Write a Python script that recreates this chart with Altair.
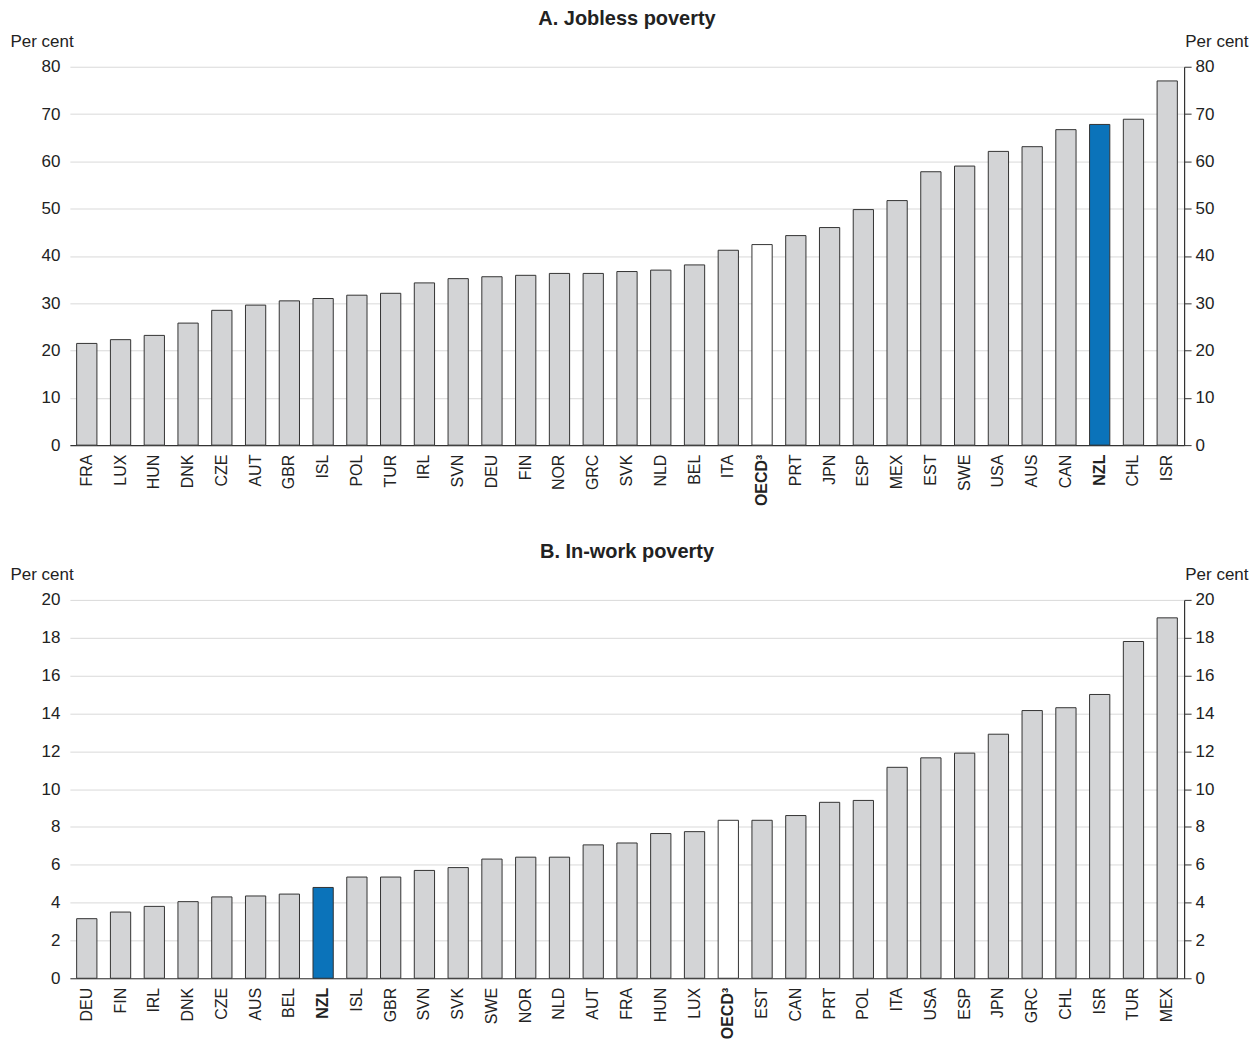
import altair as alt
import pandas as pd

FONT = "Liberation Sans"

countries_a = ["FRA", "LUX", "HUN", "DNK", "CZE", "AUT", "GBR", "ISL", "POL", "TUR",
               "IRL", "SVN", "DEU", "FIN", "NOR", "GRC", "SVK", "NLD", "BEL", "ITA",
               "OECD³", "PRT", "JPN", "ESP", "MEX", "EST", "SWE", "USA", "AUS", "CAN",
               "NZL", "CHL", "ISR"]
values_a = [21.5, 22.3, 23.2, 25.8, 28.5, 29.6, 30.5, 31.0, 31.7, 32.1,
            34.3, 35.2, 35.6, 35.9, 36.3, 36.3, 36.7, 37.0, 38.1, 41.2,
            42.4, 44.3, 46.0, 49.8, 51.7, 57.8, 59.0, 62.1, 63.1, 66.7,
            67.8, 68.9, 77.0]

countries_b = ["DEU", "FIN", "IRL", "DNK", "CZE", "AUS", "BEL", "NZL", "ISL", "GBR",
               "SVN", "SVK", "SWE", "NOR", "NLD", "AUT", "FRA", "HUN", "LUX", "OECD³",
               "EST", "CAN", "PRT", "POL", "ITA", "USA", "ESP", "JPN", "GRC", "CHL",
               "ISR", "TUR", "MEX"]
values_b = [3.15, 3.5, 3.8, 4.05, 4.3, 4.35, 4.45, 4.8, 5.35, 5.35,
            5.7, 5.85, 6.3, 6.4, 6.4, 7.05, 7.15, 7.65, 7.75, 8.35,
            8.35, 8.6, 9.3, 9.4, 11.15, 11.65, 11.9, 12.9, 14.15, 14.3,
            15.0, 17.8, 19.05]

titles = ["A. Jobless poverty", "B. In-work poverty"]
y_max = [80, 20]
y_step = [10, 2]

GRAY = "#d3d4d6"
BLUE = "#0b73ba"
WHITE = "#ffffff"
TEXT = "#222222"


def group_of(c):
    if c == "NZL":
        return "NZL"
    if c.startswith("OECD"):
        return "OECD"
    return "Other"


def panel(countries, values, title, ymax, ystep):
    df = pd.DataFrame({"country": countries, "value": values,
                       "group": [group_of(c) for c in countries]})
    ticks = list(range(0, ymax + 1, ystep))
    yscale = alt.Scale(domain=[0, ymax], nice=False)
    bold_test = "datum.value == 'NZL' || datum.value == 'OECD³'"
    xscale = alt.Scale(paddingInner=0.4, paddingOuter=0.2)
    x = alt.X("country:N", sort=countries, title=None, scale=xscale,
              axis=alt.Axis(labelAngle=-90, labelAlign="right", labelBaseline="middle",
                            labelFontSize=16, labelColor=TEXT, labelPadding=9,
                            ticks=False, domain=True, domainColor="#333333",
                            domainWidth=1.2,
                            labelFontWeight={"condition": {"test": bold_test, "value": "bold"},
                                             "value": "normal"}))
    bars = alt.Chart(df).mark_bar(stroke="#333333", strokeWidth=1).encode(
        x=x,
        y=alt.Y("value:Q", scale=yscale, title="Per cent",
                axis=alt.Axis(orient="left", values=ticks, grid=True, gridColor="#d9d9d9",
                              gridWidth=1, domain=False, ticks=False, tickSize=0,
                              labelPadding=10, labelFontSize=17, labelColor=TEXT,
                              titleAngle=0, titleAlign="left", titleBaseline="middle",
                              titleX=-60, titleY=-25, titleFontSize=17,
                              titleFontWeight="normal", titleColor=TEXT)),
        color=alt.Color("group:N", legend=None,
                        scale=alt.Scale(domain=["Other", "NZL", "OECD"],
                                        range=[GRAY, BLUE, WHITE])),
    )
    right = alt.Chart(df).mark_bar(opacity=0).encode(
        x=alt.X("country:N", sort=countries, title=None, scale=xscale),
        y=alt.Y("value:Q", scale=yscale, title="Per cent",
                axis=alt.Axis(orient="right", values=ticks, grid=False, domain=True,
                              domainColor="#333333", domainWidth=1.2, ticks=True,
                              tickSize=7, tickColor="#333333",
                              labelPadding=4, labelFontSize=17, labelColor=TEXT,
                              titleAngle=0, titleAlign="right", titleBaseline="middle",
                              titleX=64, titleY=-25, titleFontSize=17,
                              titleFontWeight="normal", titleColor=TEXT)),
    )
    return alt.layer(bars, right).resolve_axis(y="independent").properties(
        width=1116, height=379,
        title=alt.TitleParams(title, fontSize=20, fontWeight="bold", anchor="middle",
                              frame="group", color=TEXT, offset=4),
    )


chart = alt.vconcat(
    panel(countries_a, values_a, titles[0], y_max[0], y_step[0]),
    panel(countries_b, values_b, titles[1], y_max[1], y_step[1]),
    spacing=36,
).properties(
    padding={"left": 2, "top": 0, "right": 2, "bottom": 2}
).configure(font=FONT).configure_view(stroke=None)

chart.save("out.html", embed_options={"renderer": "svg", "actions": False})
